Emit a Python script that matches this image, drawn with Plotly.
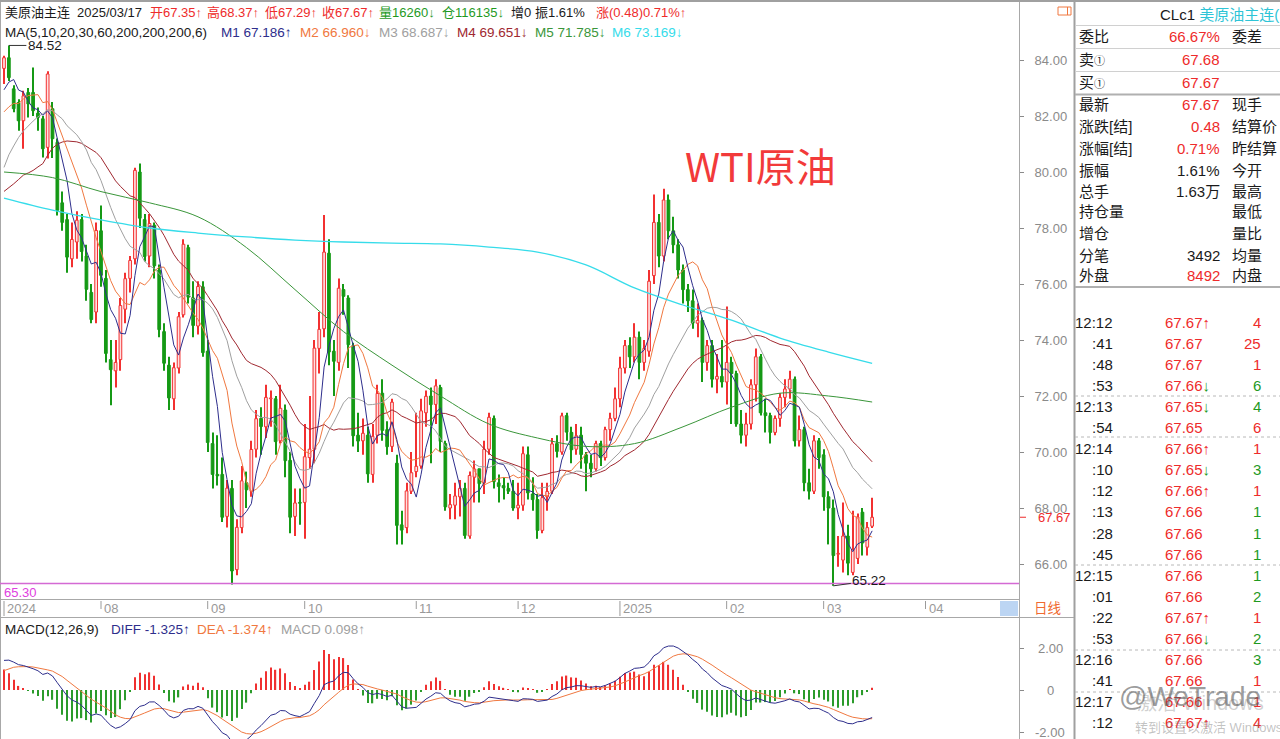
import pandas as pd
import plotly.graph_objects as go

W, H = 1280, 739

# ------------------------------------------------------------------ data
# daily candles, 2024-07-03 .. 2025-03-17 (index = trading-day slot)
open_ = [
    83.70, 84.08, 82.97, 82.48, 81.83, 82.84, 82.84, 82.10, 81.90, 80.88, 82.26, 81.06, 78.90, 78.30, 76.90, 77.50, 78.30, 77.00, 75.70, 75.00,
    77.90, 76.20, 73.30, 72.90, 73.30, 75.10, 76.20, 76.90, 80.00, 78.30, 77.00, 78.10, 76.50, 74.30, 73.10, 71.90, 73.00, 74.90, 77.30, 75.50, 74.50, 75.90,
    73.60, 70.30, 69.20, 69.20, 67.70, 68.70, 65.80, 67.30, 68.90, 68.60, 70.10, 71.20, 70.90, 71.90, 71.90, 70.40, 71.50, 69.70, 67.70, 68.20,
    68.20, 69.80, 70.10, 73.70, 74.40, 77.10, 73.60, 73.20, 75.80, 75.50, 73.80, 70.60, 70.40, 70.60, 69.20, 70.60, 72.10, 70.80, 70.20, 69.60, 67.40, 67.30, 68.60,
    69.30, 69.50, 71.40, 72.00, 71.70, 72.30, 70.30, 68.00, 68.10, 68.40, 68.70, 67.00, 69.10, 69.40, 68.90, 70.10, 71.20, 68.90, 68.80, 68.70, 68.60,
    68.00, 68.10, 69.90, 68.50, 68.30, 67.20, 68.40, 68.60, 70.30, 70.00, 71.30, 70.70, 70.10, 70.60, 69.90, 69.60, 69.40, 70.30, 69.80, 70.80, 71.20,
    71.90, 73.00, 73.80, 73.40, 74.10, 73.20, 73.60, 76.30, 78.20, 77.00, 79.00, 77.90, 77.40, 76.50, 75.80, 75.40, 74.60, 74.70, 73.20, 73.80, 72.60, 72.70,
    72.50, 73.20, 72.80, 71.00, 70.60, 71.00, 72.40, 73.40, 71.40, 71.30, 70.70, 71.20, 71.95, 72.25, 72.60, 70.40, 70.80, 68.90, 68.60, 70.40,
    69.90, 68.40, 68.00, 66.35, 66.14, 67.00, 65.70, 66.20, 67.85, 66.60, 67.35,
]
high = [
    84.15, 84.52, 83.10, 82.60, 82.90, 83.00, 83.73, 82.30, 82.00, 83.60, 82.50, 81.20, 79.30, 78.50, 78.20, 78.60, 78.50, 77.40, 76.00, 78.20,
    78.80, 76.50, 74.00, 74.00, 75.50, 76.40, 77.00, 80.15, 80.30, 78.50, 78.50, 78.20, 76.70, 74.60, 73.40, 73.20, 75.00, 77.60, 77.40, 76.10, 76.10, 76.10,
    74.00, 70.70, 70.60, 69.80, 69.00, 69.00, 67.60, 69.50, 69.30, 70.40, 71.50, 71.60, 72.40, 72.20, 72.00, 72.40, 71.70, 70.00, 68.70, 68.70,
    71.00, 72.00, 74.00, 75.00, 78.46, 77.60, 74.00, 76.20, 76.00, 75.60, 73.90, 71.40, 71.20, 70.90, 71.00, 72.40, 72.60, 71.10, 71.90, 69.90, 67.90, 68.90, 70.00,
    71.40, 71.90, 72.20, 72.30, 72.60, 72.40, 70.40, 68.50, 68.90, 69.00, 68.90, 69.30, 69.70, 69.40, 70.40, 71.40, 71.30, 69.20, 69.10, 68.90, 69.00,
    68.90, 70.20, 70.20, 69.10, 68.50, 68.90, 68.90, 70.50, 70.60, 71.40, 71.40, 70.90, 71.00, 70.90, 70.00, 69.90, 70.40, 70.40, 70.90, 71.40, 72.30,
    73.40, 74.00, 74.10, 74.60, 74.30, 74.00, 76.50, 79.20, 78.50, 79.40, 79.20, 78.40, 77.60, 76.70, 76.00, 75.80, 75.30, 74.80, 74.00, 74.00, 73.50, 74.00,
    75.20, 73.40, 72.90, 71.50, 71.40, 72.60, 73.70, 73.50, 71.90, 71.40, 71.30, 72.10, 72.60, 72.90, 72.70, 71.30, 70.90, 69.40, 70.60, 70.50,
    70.10, 68.60, 68.30, 67.00, 68.20, 67.40, 67.90, 67.80, 68.00, 67.50, 68.37,
]
low = [
    83.14, 83.25, 82.13, 81.47, 80.83, 81.95, 82.00, 81.47, 80.52, 80.48, 80.50, 78.45, 77.90, 76.40, 76.60, 76.90, 76.80, 75.40, 74.60, 74.60,
    75.90, 73.20, 71.67, 72.30, 72.90, 74.60, 75.70, 76.70, 78.00, 76.80, 76.60, 76.20, 74.10, 72.90, 71.50, 71.50, 72.80, 74.80, 75.30, 74.10, 74.20, 73.40,
    70.00, 68.70, 68.80, 67.50, 67.30, 65.27, 65.60, 67.10, 68.00, 68.40, 69.80, 69.90, 70.50, 70.90, 69.90, 70.30, 69.10, 67.10, 67.00, 67.40,
    66.90, 69.40, 69.60, 72.80, 74.10, 73.10, 72.00, 72.90, 74.90, 73.00, 70.20, 70.00, 69.90, 68.90, 68.90, 70.30, 70.40, 69.90, 70.00, 66.70, 66.70, 67.10, 68.50,
    69.10, 69.40, 70.90, 69.60, 71.00, 70.00, 67.90, 67.60, 67.60, 67.70, 66.90, 66.90, 68.20, 68.20, 68.50, 69.90, 68.70, 68.20, 68.30, 68.50, 67.90,
    67.60, 67.90, 68.30, 67.90, 66.90, 67.10, 67.90, 68.50, 69.80, 69.90, 70.40, 69.60, 69.90, 69.40, 68.60, 69.10, 69.30, 69.50, 69.70, 70.40, 71.10,
    71.60, 72.80, 73.00, 73.20, 72.60, 72.90, 73.40, 76.00, 76.60, 76.80, 77.60, 77.10, 76.20, 75.30, 75.00, 74.40, 74.10, 72.50, 72.90, 72.30, 72.10, 72.30,
    71.70, 71.00, 70.90, 70.30, 70.20, 70.80, 71.80, 71.30, 70.70, 70.30, 70.60, 70.90, 71.60, 71.90, 70.20, 70.20, 68.60, 68.30, 68.50, 69.40,
    67.90, 66.70, 65.22, 65.90, 65.70, 65.60, 65.60, 66.00, 66.30, 66.30, 67.29,
]
close = [
    84.08, 83.37, 82.26, 81.83, 82.72, 82.43, 82.19, 81.95, 80.83, 83.50, 81.19, 78.63, 78.20, 76.96, 77.59, 78.28, 77.16, 75.81, 74.73, 77.91,
    76.31, 73.52, 72.94, 73.20, 75.23, 76.19, 76.84, 80.06, 78.35, 76.98, 78.16, 76.65, 74.37, 73.17, 71.93, 73.01, 74.83, 77.42, 75.53, 74.52, 75.91, 73.55,
    70.34, 69.20, 69.15, 67.67, 68.71, 65.75, 67.31, 68.97, 68.65, 70.09, 71.19, 70.91, 71.95, 71.92, 70.37, 71.56, 69.69, 67.67, 68.18, 68.17,
    69.83, 70.10, 73.71, 74.38, 77.14, 73.57, 73.24, 75.85, 75.56, 73.83, 70.58, 70.39, 70.67, 69.22, 70.56, 72.09, 70.77, 70.19, 71.78, 67.38, 67.21, 68.61, 69.26,
    69.49, 71.47, 71.99, 71.69, 72.36, 70.38, 68.04, 68.12, 68.43, 68.70, 67.02, 69.16, 69.39, 68.87, 70.10, 71.24, 68.94, 68.77, 68.72, 68.60, 68.00,
    68.10, 69.94, 68.54, 68.30, 67.20, 68.37, 68.59, 70.29, 70.02, 71.29, 70.71, 70.08, 70.58, 69.91, 69.60, 69.40, 70.30, 69.80, 70.80, 71.20, 71.90,
    73.00, 73.80, 73.40, 74.10, 73.20, 73.70, 76.10, 78.20, 77.00, 79.00, 77.90, 77.40, 76.50, 75.80, 75.40, 74.60, 74.70, 73.20, 73.80, 72.60, 72.70, 72.50,
    73.20, 72.80, 71.00, 70.60, 71.00, 72.40, 73.40, 71.40, 71.30, 70.70, 71.20, 71.95, 72.25, 72.60, 70.40, 70.80, 68.90, 68.60, 70.40, 69.80,
    68.40, 68.00, 66.30, 66.35, 67.00, 66.03, 66.52, 67.68, 66.75, 67.30, 67.67,
]
# closes of the 29 sessions before the first visible candle (indicator warm-up)
hist_close = [79.6, 77.9, 77.2, 78.0, 80.1, 79.5, 78.2, 77.3, 74.5, 73.6, 74.4, 75.9, 75.8, 78.0, 78.8,
              78.8, 78.9, 78.7, 80.6, 81.9, 81.6, 81.0, 81.9, 81.1, 81.2, 82.0, 81.8, 83.7, 83.1]
ema12_start, ema26_start, dea_start = 81.5, 80.2, 0.80

# long moving averages at sample slots
ma_long_idx = [0, 10, 20, 30, 40, 50, 60, 70, 80, 90, 100, 110, 120, 130, 140, 150, 160, 170, 179]
ma60_val = [80.0, 79.8, 79.3, 78.9, 78.4, 77.3, 75.8, 74.3, 73.1, 72.0, 71.0, 70.5, 70.2, 70.3, 70.9, 71.6, 72.1, 72.0, 71.785]
ma200_val = [79.07, 78.64, 78.29, 78.0, 77.82, 77.68, 77.57, 77.5, 77.46, 77.43, 77.32, 77.14, 76.68, 75.86, 75.25, 74.71, 74.07, 73.57, 73.169]

month_tick_idx = [0, 20, 42, 62, 85, 106, 127, 149, 169, 190]
month_tick_text = ["2024", "08", "09", "10", "11", "12", "2025", "02", "03", "04"]
price_ticks = [66, 68, 70, 72, 74, 76, 78, 80, 82, 84]
macd_ticks = [2, 0, -2]
macd_tick_text = ["2.00", "0", "-2.00"]
support_level = 65.30

quote_labels = ["委比", "卖<span style='font-size:11px'>①</span>", "买<span style='font-size:11px'>①</span>", "最新", "涨跌[结]", "涨幅[结]",
                "振幅", "总手", "持仓量", "增仓", "分笔", "外盘"]
quote_values = ["66.67%", "67.68", "67.67", "67.67", "0.48", "0.71%", "1.61%", "1.63万", "", "", "3492", "8492"]
quote_value_red = [True, True, True, True, True, True, False, False, False, False, False, True]
quote_right = ["委差", "", "", "现手", "结算价", "昨结算", "今开", "最高", "最低", "量比", "均量", "内盘"]

trade_time = ["12:12", ":41", ":48", ":53", "12:13", ":54", "12:14", ":10", ":12", ":13",
              ":28", ":45", "12:15", ":01", ":22", ":53", "12:16", ":41", "12:17", ":12"]
trade_price = [67.67, 67.67, 67.67, 67.66, 67.65, 67.65, 67.66, 67.65, 67.66, 67.66,
               67.66, 67.66, 67.66, 67.66, 67.67, 67.66, 67.66, 67.66, 67.66, 67.67]
trade_arrow = ["↑", "", "", "↓", "↓", "", "↑", "↓", "↑", "",
               "", "", "", "", "↑", "↓", "", "", "", "↑"]
trade_vol = [4, 25, 1, 6, 4, 6, 1, 3, 1, 1, 1, 1, 1, 2, 1, 2, 3, 1, 1, 4]
trade_vol_up = [True, True, True, False, False, True, True, False, True, False,
                False, False, False, False, True, False, False, True, True, True]

# ------------------------------------------------------------------ styles
FONT = "Liberation Sans, Arial, Noto Sans CJK SC, sans-serif"
RED = "#ee2b2b"
GREEN = "#1f9a1f"
BLACK = "#1a1a1a"
NAVY = "#2e2e8c"
ORANGE = "#f07840"
GRAY = "#a0a0a0"
DARKRED = "#a02830"
MGREEN = "#3a963a"
CYAN = "#36dcea"
AXGRAY = "#8a8a8a"
CANDLE_UP = "#f23030"
CANDLE_UP_FILL = "#ffe0e0"
CANDLE_DN = "#159915"


def PX(x):
    return x / W


def PY(y):
    return 1 - y / H


idx = list(range(len(close)))
up = [c >= o for o, c in zip(open_, close)]

full = pd.Series(hist_close + close)
nh = len(hist_close)


def sma(n):
    return full.rolling(n).mean().iloc[nh:].tolist()


ma5, ma10, ma20, ma30 = sma(5), sma(10), sma(20), sma(30)


def ema(vals, n, seed):
    k = 2 / (n + 1)
    out, e = [], seed
    for v in vals:
        e = e + k * (v - e)
        out.append(e)
    return out


e12 = ema(close, 12, ema12_start)
e26 = ema(close, 26, ema26_start)
diff = [a - b for a, b in zip(e12, e26)]
dea = ema(diff, 9, dea_start)
macd = [2 * (d - e) for d, e in zip(diff, dea)]

fig = go.Figure()

# wicks
fig.add_trace(go.Bar(x=idx, y=[h - l for h, l in zip(high, low)], base=low, width=0.22,
                     marker=dict(color=[CANDLE_UP if u else CANDLE_DN for u in up], line=dict(width=0)),
                     hoverinfo="skip", xaxis="x", yaxis="y"))
# bodies
fig.add_trace(go.Bar(x=idx, y=[max(abs(c - o), 0.03) for o, c in zip(open_, close)],
                     base=[min(o, c) for o, c in zip(open_, close)], width=0.56,
                     marker=dict(color=[CANDLE_UP_FILL if u else CANDLE_DN for u in up],
                                 line=dict(color=[CANDLE_UP if u else CANDLE_DN for u in up], width=1)),
                     hoverinfo="skip", xaxis="x", yaxis="y"))

for vals, col in [(ma30, DARKRED), (ma20, GRAY), (ma10, ORANGE), (ma5, NAVY)]:
    fig.add_trace(go.Scatter(x=idx, y=vals, mode="lines", line=dict(color=col, width=1),
                             hoverinfo="skip", xaxis="x", yaxis="y"))
fig.add_trace(go.Scatter(x=ma_long_idx, y=ma60_val, mode="lines", line=dict(color=MGREEN, width=1, shape="spline"),
                         hoverinfo="skip", xaxis="x", yaxis="y"))
fig.add_trace(go.Scatter(x=ma_long_idx, y=ma200_val, mode="lines", line=dict(color=CYAN, width=1.3, shape="spline"),
                         hoverinfo="skip", xaxis="x", yaxis="y"))

# MACD
fig.add_trace(go.Bar(x=idx, y=macd, width=0.25,
                     marker=dict(color=["#f03030" if m >= 0 else "#2b9b2b" for m in macd], line=dict(width=0)),
                     hoverinfo="skip", xaxis="x2", yaxis="y2"))
fig.add_trace(go.Scatter(x=idx, y=dea, mode="lines", line=dict(color=ORANGE, width=1), hoverinfo="skip",
                         xaxis="x2", yaxis="y2"))
fig.add_trace(go.Scatter(x=idx, y=diff, mode="lines", line=dict(color=NAVY, width=1), hoverinfo="skip",
                         xaxis="x2", yaxis="y2"))

x_lo, x_hi = -4 / 4.85, 1015 / 4.85
plot_r = 1019

fig.update_layout(
    width=W, height=H, margin=dict(l=0, r=0, t=0, b=0),
    paper_bgcolor="white", plot_bgcolor="white", showlegend=False, barmode="overlay",
    font=dict(family=FONT, size=13, color=BLACK),
    xaxis=dict(domain=[0, PX(plot_r)], range=[x_lo, x_hi], showticklabels=False, showgrid=False,
               zeroline=False, showline=False, fixedrange=True),
    xaxis2=dict(domain=[0, PX(plot_r)], range=[x_lo, x_hi], showticklabels=False, showgrid=False,
                zeroline=False, showline=False, anchor="y2", matches="x"),
    yaxis=dict(domain=[PY(599), PY(3)], range=[84 - (599 - 60) / 28, 84 + 57 / 28], side="right",
               tickvals=price_ticks, tickformat=".2f", ticks="outside", ticklen=4, tickcolor=AXGRAY,
               tickfont=dict(color=AXGRAY, size=13, family=FONT), ticklabelstandoff=8,
               showgrid=False, zeroline=False, showline=False, anchor="x"),
    yaxis2=dict(domain=[0, PY(617)], range=[-49 / 21, 73 / 21], side="right", tickvals=macd_ticks,
                showticklabels=False, ticks="outside", ticklen=4, tickcolor=AXGRAY,
                showgrid=False, zeroline=False, showline=False, anchor="x2"),
)

shapes = []
LG = "#a8a8a8"


def hline(y, x0, x1, color=LG, width=1, dash="solid"):
    shapes.append(dict(type="line", xref="paper", yref="paper", x0=PX(x0), x1=PX(x1), y0=PY(y), y1=PY(y),
                       line=dict(color=color, width=width, dash=dash)))


def vline(x, y0, y1, color=LG, width=1):
    shapes.append(dict(type="line", xref="paper", yref="paper", x0=PX(x), x1=PX(x), y0=PY(y0), y1=PY(y1),
                       line=dict(color=color, width=width)))


vline(0.5, 0, H)
vline(plot_r + 0.5, 0, H)
vline(1074.5, 0, H, "#a0a0a0", 2)
hline(1, 0, 1280, "#a0a0a0", 2)
hline(599.5, 0, plot_r + 1)
hline(617.5, 0, 1074)
# support line
shapes.append(dict(type="line", xref="paper", yref="y", x0=0, x1=PX(plot_r), y0=support_level, y1=support_level,
                   line=dict(color="#d46ad4", width=1.5)))
# date tick marks
for ti, tt in zip(month_tick_idx, month_tick_text):
    long_tick = len(tt) == 4
    shapes.append(dict(type="line", xref="x", yref="paper", x0=ti, x1=ti,
                       y0=PY(616 if long_tick else 609), y1=PY(601), line=dict(color="#9a9a9a", width=1)))
# scroll box
shapes.append(dict(type="rect", xref="paper", yref="paper", x0=PX(1000), x1=PX(1018), y0=PY(616), y1=PY(601),
                   line=dict(width=0), fillcolor="#bcd5f3"))
# small orange icon
shapes.append(dict(type="rect", xref="paper", yref="paper", x0=PX(1058), x1=PX(1071), y0=PY(15), y1=PY(7),
                   line=dict(color="#f07840", width=1), fillcolor="rgba(0,0,0,0)"))
vline(1067.5, 7, 15, "#f07840", 1)
# right panel separators
hline(25.5, 1075, 1280, "#d0d0d0")
hline(48.5, 1075, 1280, "#d0d0d0")
hline(71.5, 1075, 1280, "#d0d0d0")
hline(94.5, 1075, 1280, "#b0b0b0", 2)
hline(287, 1075, 1280, "#b0b0b0", 2)
for yy in [396, 437, 565, 650, 692]:
    hline(yy, 1075, 1280, "#b8b8b8", 1, "dot")
fig.update_layout(shapes=shapes)

ann = []


def text(x, y, s, color=BLACK, size=13, anchor="left", family=FONT, opacity=1):
    ann.append(dict(xref="paper", yref="paper", x=PX(x), y=PY(y), text=s, showarrow=False,
                    xanchor=anchor, yanchor="middle", font=dict(color=color, size=size, family=family),
                    opacity=opacity))


# header line 1
last = len(close) - 1
for s, x, c in [("美原油主连", 3, BLACK), ("2025/03/17", 75, BLACK),
                (f"开{open_[last]:.2f}↑", 148, RED), (f"高{high[last]:.2f}↑", 205, RED),
                (f"低{low[last]:.2f}↑", 263, RED), (f"收{close[last]:.2f}↑", 320, RED),
                ("量16260↓", 377, GREEN), ("仓116135↓", 440, GREEN), ("增0", 509, BLACK),
                ("振1.61%", 533, BLACK), ("涨(0.48)0.71%↑", 594, RED)]:
    text(x, 13, s, c)
for s, x, c in [("MA(5,10,20,30,60,200,200,200,6)", 3, BLACK), ("M1 67.186↑", 219, NAVY),
                ("M2 66.960↓", 298, ORANGE), ("M3 68.687↓", 377, GRAY), ("M4 69.651↓", 455, DARKRED),
                ("M5 71.785↓", 533, MGREEN), ("M6 73.169↓", 610, CYAN)]:
    text(x, 32, s, c, 13.5)
for s, x, c in [("MACD(12,26,9)", 3, BLACK), ("DIFF -1.325↑", 109, NAVY), ("DEA -1.374↑", 195, ORANGE),
                ("MACD 0.098↑", 279, GRAY)]:
    text(x, 629, s, c, 13.5)

text(683, 165, "WTI原油", "#f23a3a", 40, family="Noto Sans CJK SC, sans-serif")

# high / low markers
imax = max(idx, key=lambda i: high[i])
imin = min(idx, key=lambda i: low[i])
ann.append(dict(xref="x", yref="y", x=imax, y=high[imax], text=f"{high[imax]:.2f}", showarrow=True,
                arrowhead=0, arrowwidth=1, arrowcolor="#333333", ax=36, ay=0,
                font=dict(color=BLACK, size=13.5, family=FONT)))
ann.append(dict(xref="x", yref="y", x=imin, y=low[imin], text=f"{low[imin]:.2f}", showarrow=True,
                arrowhead=0, arrowwidth=1, arrowcolor="#333333", ax=36, ay=-5,
                font=dict(color=BLACK, size=13.5, family=FONT)))
# support label
ann.append(dict(xref="paper", yref="y", x=PX(2), y=support_level, text=f"{support_level:.2f}", showarrow=False,
                xanchor="left", yanchor="top", yshift=1, font=dict(color="#e040e0", size=13, family=FONT)))
# date labels
for ti, tt in zip(month_tick_idx, month_tick_text):
    ann.append(dict(xref="x", yref="paper", x=ti, y=PY(608), text=tt, showarrow=False, xanchor="left",
                    xshift=1, yanchor="middle", font=dict(color="#999999", size=13, family=FONT)))
text(1047, 608, "日线", "#f06a30", 13.5, anchor="center")
# current price label on axis
ann.append(dict(xref="paper", yref="y", x=PX(1036), y=close[last], text=f"{close[last]:.2f}", showarrow=False,
                xanchor="left", font=dict(color=RED, size=13, family=FONT)))
fig.add_shape(type="line", xref="paper", yref="y", x0=PX(1020), x1=PX(1026), y0=close[last], y1=close[last],
              line=dict(color=RED, width=1))
# MACD tick labels
for v, t in zip(macd_ticks, macd_tick_text):
    ann.append(dict(xref="paper", yref="y2", x=PX(1050), y=v, text=t, showarrow=False, xanchor="center",
                    font=dict(color=AXGRAY, size=13, family=FONT)))

# right panel
text(1158, 14, "CLc1 <span style='color:#2ec4d6'>美原油主连(</span>", BLACK, 15)
rows_y = [36, 59, 82, 105, 127, 148, 170, 191, 212, 233, 255, 276]
for y, lab, val, red, rt in zip(rows_y, quote_labels, quote_values, quote_value_red, quote_right):
    text(1077, y, lab, BLACK, 15)
    if val:
        text(1222, y, val, RED if red else BLACK, 15, anchor="right")
    if rt:
        text(1230, y, rt, BLACK, 15)

for k in range(len(trade_time)):
    y = 322 + 21.1 * k
    text(1115, y, trade_time[k], BLACK, 15, anchor="right")
    arr = trade_arrow[k]
    arr_col = RED if arr == "↑" else GREEN
    text(1163, y, f"{trade_price[k]:.2f}<span style='color:{arr_col}'>{arr}</span>", RED, 15)
    text(1263, y, str(trade_vol[k]), RED if trade_vol_up[k] else GREEN, 15, anchor="right")

# screenshot watermarks
text(1135, 703, "激活 Windows", "rgba(120,120,120,0.35)", 20)
text(1190, 696, "@WeTrade", "rgba(90,90,90,0.6)", 28, anchor="center")
text(1133, 727, "转到设置以激活 Windows", "rgba(120,120,120,0.45)", 13)

fig.update_layout(annotations=ann)

fig.write_html("out.html", include_plotlyjs=True, config={"displayModeBar": False},
               post_script="document.body.style.margin='0';document.body.style.overflow='hidden';")
